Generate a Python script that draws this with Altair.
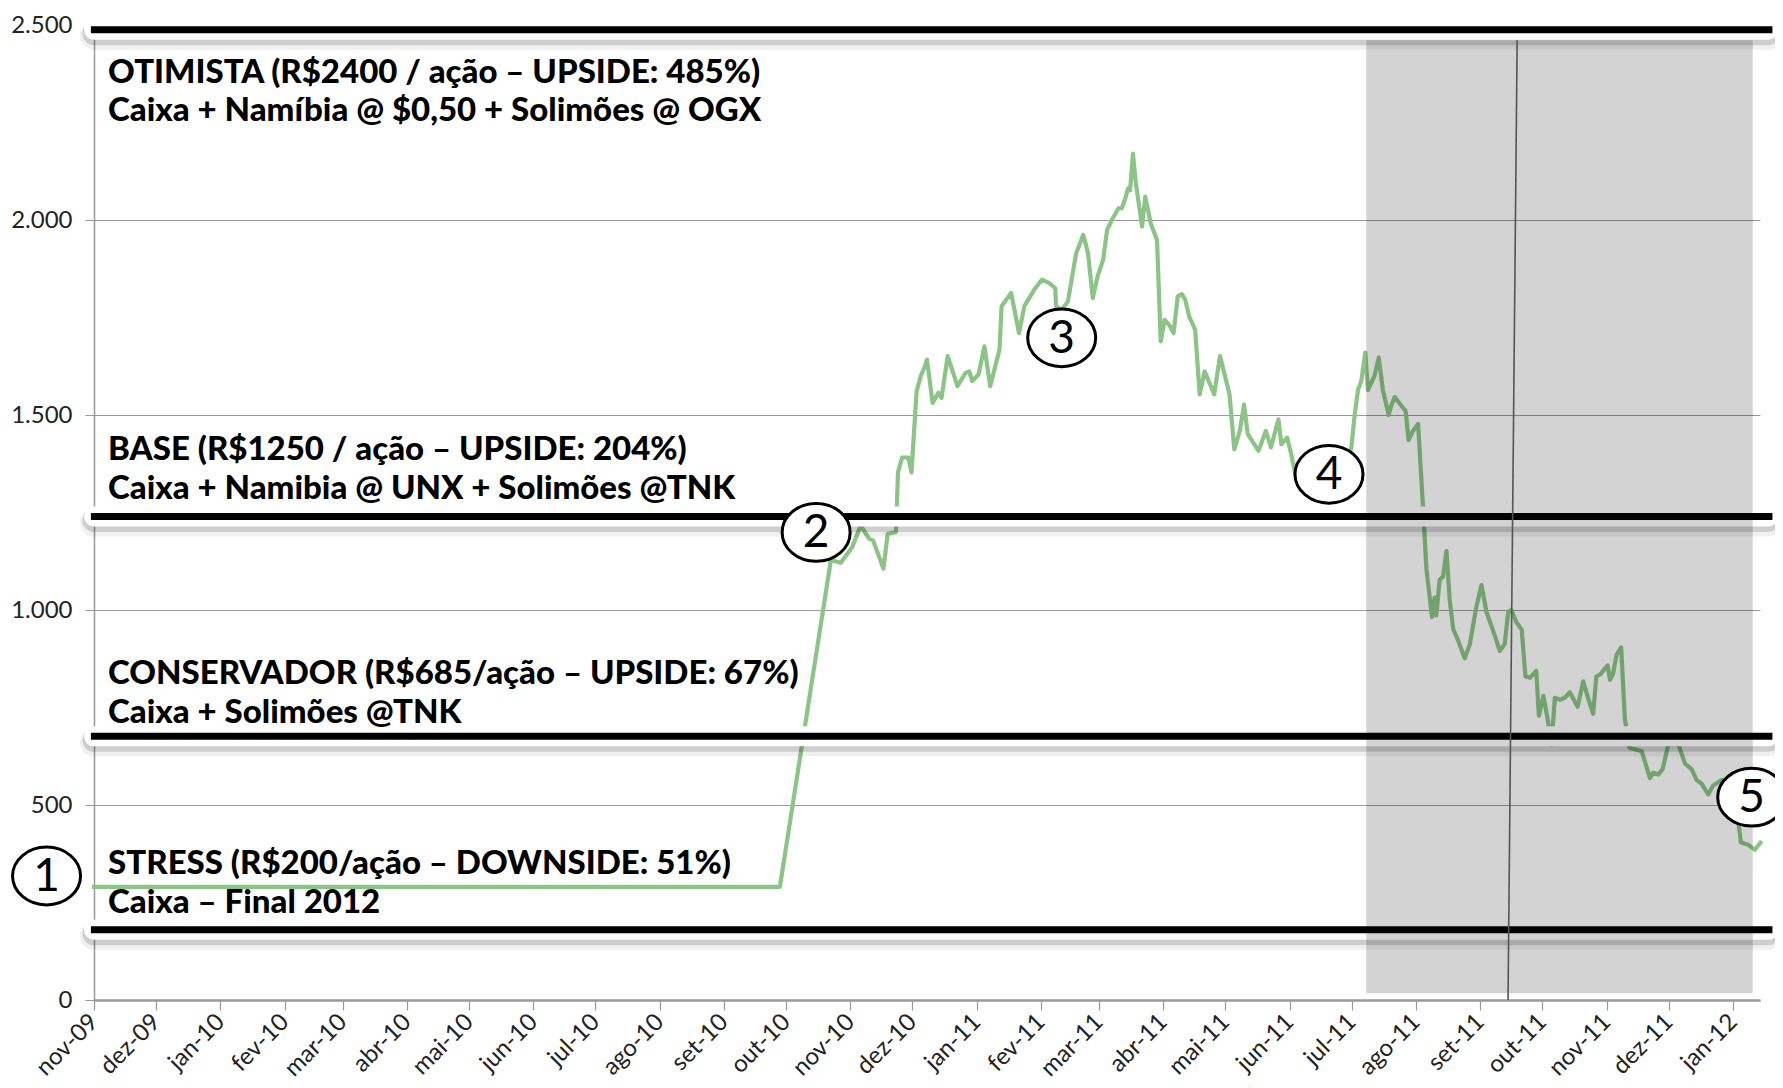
import altair as alt
import pandas as pd

# ---------------- data ----------------
# day offsets from 2009-11-01 and price values (R$/ação)
line_day = [-1, 331, 355.6, 360.4, 366, 370, 374, 376, 381, 383, 387, 388,
            390, 393, 394.5, 397, 399, 401, 402, 404.7, 407.5, 409, 412, 416.7,
            420.6, 422.4, 423.8, 426.9, 429.7, 432.5, 437, 438, 442.6, 446.4, 449,
            453.7, 457.4, 461, 463.9, 464.3, 467, 470, 474, 477.4, 479.7, 482,
            484.3, 487, 488.9, 491.6, 494.4, 496, 497.7, 499, 500, 501.4, 502.7,
            505.8, 507.3, 510, 513, 514.8, 516.7, 519, 521, 523, 525, 526.6, 528.5,
            531.4, 533.6, 536, 540.6, 543.4, 548, 550.3, 553, 555, 556.8, 562,
            565.5, 568, 571.6, 573, 575.8, 577.6, 580, 590, 603,
            606.8, 608.4, 610, 611.6, 613.5, 614.8, 618, 620, 622, 624.8, 626,
            627.7, 631, 633, 634.4, 636.5, 639, 641.4, 643, 645.7, 647, 647.8,
            649.4, 651, 652.7, 654.3, 656, 658.3, 661.5, 664, 667, 669.6, 672,
            674.4, 676.8, 678.4, 680.8, 682.5, 684, 686.5, 689, 690.8, 693, 696,
            697.3, 699.5, 701.8, 703.4, 705, 707.5, 709.8, 712.2, 716, 718.7, 721,
            723.5, 725, 727, 729, 730.5, 731.6, 733, 734.8, 737, 738.8, 741, 746.9,
            750.9, 752.5, 754.9, 757, 759.8, 764.6, 767.8, 771, 773.4, 775.8, 779,
            781.4, 785.5, 789, 792, 793.6, 794.8, 798, 801.6, 804.8]
line_val = [290, 290, 1128, 1121, 1162, 1217, 1183, 1178, 1106, 1195, 1200, 1353,
            1391, 1391, 1353, 1561, 1600, 1625, 1642, 1531, 1557, 1544, 1651, 1574,
            1608, 1612, 1587, 1604, 1676, 1574, 1668, 1779, 1813, 1710, 1779,
            1821, 1847, 1838, 1825, 1779, 1770, 1791, 1915, 1962, 1915, 1800,
            1855, 1898, 1974, 2004, 2030, 2030, 2055, 2081, 2076, 2170, 2098,
            1983, 2060, 1991, 1949, 1689, 1744, 1730, 1710, 1804, 1810, 1796, 1753,
            1719, 1553, 1612, 1553, 1651, 1553, 1412, 1460, 1527, 1451, 1408,
            1459, 1417, 1489, 1425, 1442, 1404, 1340, 1310, 1330,
            1417, 1500, 1564, 1587, 1660, 1564, 1601, 1647, 1564, 1500, 1523,
            1546, 1523, 1510, 1436, 1459, 1477, 1261, 1106, 982, 1032, 986,
            1078, 1085, 1151, 1023, 950, 922, 876, 913, 1005, 1064, 995,
            959, 922, 895, 913, 995, 1000, 968, 950, 830, 826, 844,
            729, 780, 711, 655, 775, 770, 775, 789, 752, 817, 775,
            734, 830, 835, 849, 858, 821, 835, 885, 904, 720, 647, 638,
            569, 583, 578, 592, 656, 656, 606, 592, 564, 555, 527,
            550, 564, 560, 555, 454, 404, 399, 385, 408]

# scenario levels (thick black lines)
scen_val = [2488, 1240, 676, 180]

# scenario texts
txt_lines = [
    "OTIMISTA (R$2400 / ação – UPSIDE: 485%)",
    "Caixa + Namíbia @ $0,50 + Solimões @ OGX",
    "BASE (R$1250 / ação – UPSIDE: 204%)",
    "Caixa + Namibia @ UNX + Solimões @TNK",
    "CONSERVADOR (R$685/ação – UPSIDE: 67%)",
    "Caixa + Solimões @TNK",
    "STRESS (R$200/ação – DOWNSIDE: 51%)",
    "Caixa – Final 2012",
]
txt_val = [2351, 2253, 1384, 1285, 809, 710, 322, 222]
txt_day = 6.8

# circled markers
circ_num = ["1", "2", "3", "4", "5"]
circ_day = [-22.9, 348.5, 467, 596, 800]
circ_val = [318, 1199, 1698, 1348, 520]

# shaded band and slanted vertical line
band_day = [614, 800.5]
band_val = [17, 2461]
slant_day = [686.8, 682.4]
slant_val = [2461, 0]

month_names = ["jan", "fev", "mar", "abr", "mai", "jun",
               "jul", "ago", "set", "out", "nov", "dez"]

# ---------------- helpers ----------------
START = pd.Timestamp("2009-11-01", tz="UTC").value // 10**6
DAY = 86400000


def t(d):
    return START + d * DAY


FONT = "Lato"
xscale = alt.Scale(type="utc",
                   domain=[alt.DateTime(year=2009, month=11, date=1, utc=True),
                           alt.DateTime(year=2012, month=1, date=14, utc=True)])
yscale = alt.Scale(domain=[0, 2500], nice=False)

month_expr = "[" + ",".join("'%s'" % m for m in month_names) + "]"
x_axis = alt.Axis(
    title=None, grid=False, tickCount=alt.TimeIntervalStep(interval="month", step=1),
    labelExpr=month_expr + "[utcmonth(datum.value)] + '-' + utcFormat(datum.value, '%y')",
    labelAngle=-45, labelAlign="right", labelBaseline="middle", labelPadding=8,
    labelFont=FONT, labelFontSize=24, labelColor="#222", labelOverlap=False,
    labelFlush=False, labelBound=False,
    domainColor="#999", domainWidth=2.5, tickColor="#999", tickSize=10, tickWidth=1.2,
)
y_axis = alt.Axis(
    title=None, values=[0, 500, 1000, 1500, 2000, 2500],
    labelExpr="replace(format(datum.value, ','), ',', '.')",
    labelFont=FONT, labelFontSize=24, labelColor="#222", labelPadding=13,
    domainColor="#999", domainWidth=1.5, tickColor="#999", tickSize=9,
    gridColor="#9a9a9a", gridWidth=1,
)


def X(f):
    return alt.X(f, type="temporal", scale=xscale, axis=x_axis)


def Y(f):
    return alt.Y(f, type="quantitative", scale=yscale, axis=y_axis)


line_df = pd.DataFrame({"t": [t(d) for d in line_day], "v": line_val,
                        "i": list(range(len(line_day)))})
line = alt.Chart(line_df).mark_line(color="#8cc487", strokeWidth=4.2,
                                    strokeJoin="round").encode(
    x=X("t"), y=Y("v"), order="i:Q",
)

scen_df = pd.DataFrame({"v": scen_val,
                        "t0": [t(0)] * 4, "t1": [t(808)] * 4,
                        "b0": [t(-1.5)] * 4, "b1": [t(810)] * 4})


def scen_rule(x0, x1, **kw):
    return alt.Chart(scen_df).mark_rule(**kw).encode(x=X(x0), x2=x1, y=Y("v"))


shadow_b = scen_rule("t0", "t1", color="#000", opacity=0.06, strokeWidth=28,
                     strokeCap="round", yOffset=6)
shadow_a = scen_rule("t0", "t1", color="#000", opacity=0.14, strokeWidth=23,
                     strokeCap="round", yOffset=4)
glow = scen_rule("t0", "t1", color="#ffffff", strokeWidth=20, strokeCap="round")
black = scen_rule("b0", "b1", color="#000000", strokeWidth=7)

band_df = pd.DataFrame({"t0": [t(band_day[0])], "t1": [t(band_day[1])],
                        "v0": [band_val[0]], "v1": [band_val[1]]})
band = alt.Chart(band_df).mark_rect(color="#000", opacity=0.173).encode(
    x=X("t0"), x2="t1", y=Y("v0"), y2="v1",
)

slant_df = pd.DataFrame({"t0": [t(slant_day[0])], "t1": [t(slant_day[1])],
                         "v0": [slant_val[0]], "v1": [slant_val[1]]})
slant = alt.Chart(slant_df).mark_rule(color="#555", strokeWidth=1.6).encode(
    x=X("t0"), x2="t1", y=Y("v0"), y2="v1",
)

txt_df = pd.DataFrame({"t": [t(txt_day)] * len(txt_lines), "v": txt_val,
                       "s": txt_lines})
texts = alt.Chart(txt_df).mark_text(align="left", baseline="alphabetic",
                                    font=FONT, fontSize=33, fontWeight=900,
                                    color="#000").encode(
    x=X("t"), y=Y("v"), text="s:N",
)

circ_df = pd.DataFrame({"t": [t(d) for d in circ_day], "v": circ_val,
                        "n": circ_num})
ellipse = "M -1 0 A 1 0.85 0 1 1 1 0 A 1 0.85 0 1 1 -1 0 Z"
circles = alt.Chart(circ_df).mark_point(shape=ellipse, size=4624, filled=True,
                                        fill="#ffffff", stroke="#000",
                                        strokeWidth=3, opacity=1).encode(
    x=X("t"), y=Y("v"),
)
nums = alt.Chart(circ_df).mark_text(font=FONT, fontSize=46, color="#000",
                                    align="center", baseline="middle",
                                    dy=1).encode(
    x=X("t"), y=Y("v"), text="n:N",
)

chart = alt.layer(line, shadow_b, shadow_a, glow, black, band, slant,
                  texts, circles, nums).properties(
    width=1666, height=975,
    padding={"left": 86, "top": 17, "right": 15, "bottom": 80},
    autosize=alt.AutoSizeParams(type="none"),
    background="#ffffff",
).configure_view(stroke=None)

chart.save("out.html", embed_options={"renderer": "svg", "actions": False})
